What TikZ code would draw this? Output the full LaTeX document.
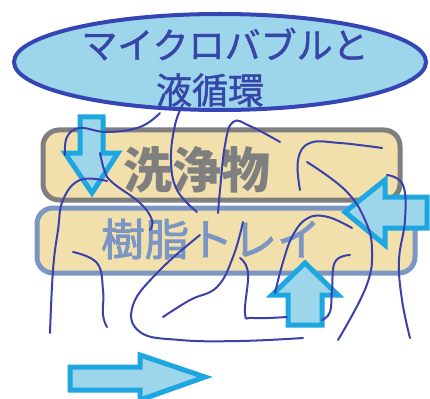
\documentclass[tikz,border=0pt]{standalone}
\usepackage{fontspec}
\newfontfamily\jp{Noto Sans CJK JP}
\newfontfamily\jpm{Noto Sans CJK JP}[FakeBold=1.2]
\newfontfamily\jpmm{Noto Sans CJK JP}[FakeBold=2]
\definecolor{ellfill}{HTML}{9DD5EA}
\definecolor{ellline}{HTML}{3545B5}
\definecolor{arrline}{HTML}{1DA6E0}
\definecolor{boxfill}{HTML}{F1E0AC}
\definecolor{graybd}{HTML}{7F7F7F}
\definecolor{bluebd}{HTML}{7B96C2}
\definecolor{curvec}{HTML}{3B41AA}
\definecolor{jtext}{HTML}{3545A8}
\tikzset{
  curve/.style={draw=curvec,line width=2pt,line cap=round},
  bigarrow/.style={draw=arrline,fill=ellfill,line width=5pt,line join=miter},
  boxshape/.style={fill=boxfill,line width=5pt,rounded corners=16pt},
  lbl/.style={inner sep=0pt,anchor=center,font=\jp}
}
\begin{document}
\begin{tikzpicture}[x=1pt,y=-1pt]
\useasboundingbox[fill=white] (0,0) rectangle (430,398);
% ellipse
\draw[fill=ellfill,draw=ellline,line width=4pt] (220,62) ellipse [x radius=206, y radius=48];
\node[lbl,text=jtext,font=\jpm\fontsize{36}{36}\selectfont] (t1) at (225,44) {マイクロバブルと};
\node[lbl,text=jtext,font=\jpm\fontsize{36}{36}\selectfont] (t2) at (210,90) {液循環};
% boxes
\draw[boxshape,draw=graybd] (43,130) rectangle (400,200);
\draw[boxshape,draw=bluebd] (37,208) rectangle (415,273);
\node[lbl,text=graybd,font=\jp\bfseries\fontsize{49}{49}\selectfont] (t3) at (197,170) {洗浄物};
\node[lbl,text=bluebd,font=\jpmm\fontsize{44}{44}\selectfont] (t4) at (211,239) {樹脂トレイ};
% arrows
\draw[bigarrow] (80,117) -- (103,117) -- (103,153) -- (118,153) -- (92,193) -- (65,153) -- (80,153) -- cycle;
\draw[bigarrow] (427,197) -- (427,228) -- (385,228) -- (385,245) -- (345,212) -- (385,180) -- (385,197) -- cycle;
\draw[bigarrow] (288,325) -- (322,325) -- (322,295) -- (338,295) -- (305,263) -- (272,295) -- (288,295) -- cycle;
\draw[bigarrow] (70,367) -- (140,367) -- (140,355) -- (205,377) -- (140,400) -- (140,390) -- (70,390) -- cycle;
% curves
\draw[curve] plot[smooth,tension=0.7] coordinates {(160,113) (140,127) (107,132) (80,128) (67,137) (65,155)};
\draw[curve] plot[smooth,tension=0.7] coordinates {(100,153) (105,172) (113,183) (140,203) (152,220) (150,230)};
\draw[curve] plot[smooth,tension=0.7] coordinates {(107,181) (80,180) (63,200) (58,230) (53,270) (50,333)};
\draw[curve] plot[smooth,tension=0.7] coordinates {(183,104) (175,125) (171,160) (177,190) (197,212)};
\draw[curve] plot[smooth,tension=0.7] coordinates {(280,142) (250,126) (233,122) (225,145) (220,190) (218,213)};
\draw[curve] plot[smooth,tension=0.7] coordinates {(300,190) (298,160) (310,143) (340,143) (382,148)};
\draw[curve] plot[smooth,tension=0.7] coordinates {(307,162) (345,190) (365,220) (372,250) (366,287) (338,340)};
\draw[curve] plot[smooth,tension=0.7] coordinates {(387,175) (403,185) (405,220) (399,260) (402,300) (410,338)};
\draw[curve] plot[smooth,tension=0.7] coordinates {(352,228) (328,217) (308,218) (293,235) (283,262) (275,293)};
\draw[curve] plot[smooth,tension=0.7] coordinates {(350,255) (335,262) (332,290) (330,312) (322,320)};
\draw[curve] plot[smooth,tension=0.7] coordinates {(240,258) (248,273) (245,313) (253,318) (287,317)};
\draw[curve] plot[smooth,tension=0.7] coordinates {(200,235) (160,270) (133,305) (140,332) (180,340) (240,341) (303,338)};
\draw[curve] plot[smooth,tension=0.7] coordinates {(73,252) (97,263) (103,290) (103,315) (107,327)};
\draw[curve] plot[smooth,tension=0.7] coordinates {(163,317) (190,300) (217,287) (233,257) (243,222)};
\end{tikzpicture}
\end{document}
